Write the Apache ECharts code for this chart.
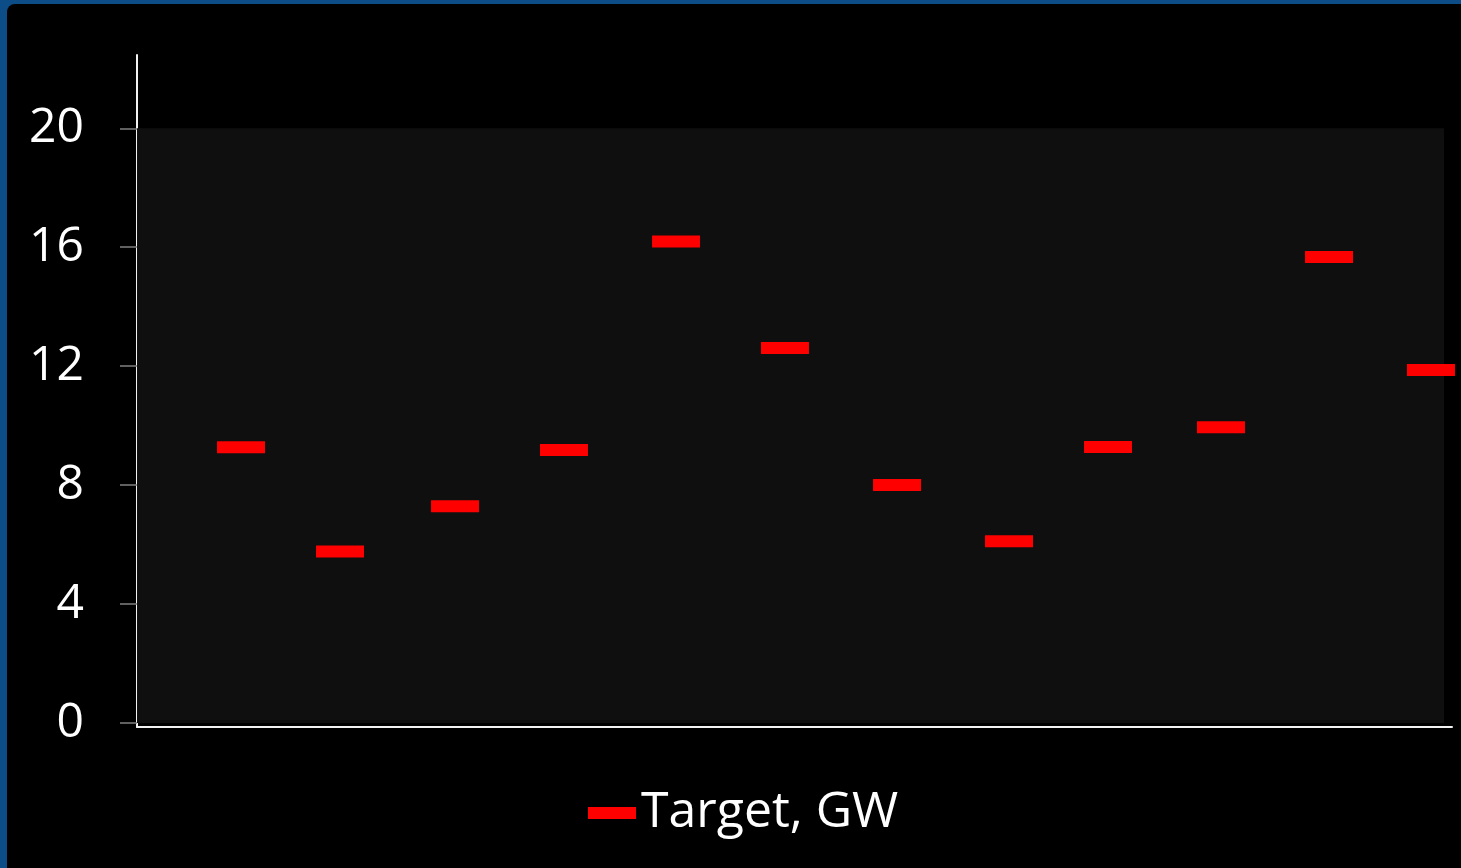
<!DOCTYPE html>
<html>
<head>
<meta charset="utf-8">
<title>Target, GW</title>
<script src="https://cdn.jsdelivr.net/npm/echarts@6/dist/echarts.min.js"></script>
<style>
  html, body { margin: 0; padding: 0; width: 1461px; height: 868px; overflow: hidden; background: #0c4d88; }
  #panel { position: absolute; left: 7px; top: 4px; right: 0; bottom: 0; background: #000; border-top-left-radius: 8px; }
  #chart { position: absolute; left: 0; top: 0; width: 1461px; height: 868px; }
</style>
</head>
<body>
<div id="panel"></div>
<div id="chart"></div>
<script>
// Position of each target along the horizontal axis
const xPositions = [0.955, 1.864, 2.920, 3.920, 4.949, 5.949, 6.978, 8.006, 8.915, 9.952, 10.944, 11.880];
// Target capacity, GW
const targetGW = [9.27, 5.77, 7.29, 9.18, 16.19, 12.61, 8.00, 6.11, 9.28, 9.95, 15.67, 11.87];
// Labelled ticks on the value axis
const yTicks = [0, 4, 8, 12, 16, 20];
const seriesName = 'Target, GW';

const points = xPositions.map((x, i) => [x, targetGW[i]]);

const FONT = '"Open Sans", "Noto Sans", sans-serif';

const chart = echarts.init(document.getElementById('chart'), null, { renderer: 'canvas' });
chart.setOption({
  backgroundColor: 'transparent',
  animation: false,
  grid: { left: 137, right: 9, top: 55, bottom: 141, containLabel: false },
  xAxis: {
    type: 'value',
    min: 0,
    max: 12.073,
    axisLine: { show: true, onZero: false, lineStyle: { color: '#f2f2f2', width: 2 } },
    axisTick: { show: false },
    axisLabel: { show: false },
    splitLine: { show: false }
  },
  yAxis: {
    type: 'value',
    min: -0.1345,
    max: 22.465,
    axisLine: { show: true, lineStyle: { color: '#f2f2f2', width: 2 } },
    axisTick: { show: true, length: 17, customValues: yTicks, lineStyle: { color: '#808080', width: 1.5 } },
    axisLabel: {
      customValues: yTicks,
      color: '#ffffff',
      fontFamily: FONT,
      fontSize: 48,
      margin: 53
    },
    splitLine: { show: false }
  },
  legend: {
    data: [{ name: seriesName, icon: 'rect' }],
    left: 583,
    top: 783,
    itemWidth: 48,
    itemHeight: 12,
    itemGap: 5,
    itemStyle: { opacity: 1 },
    textStyle: { color: '#ffffff', fontFamily: FONT, fontSize: 50 }
  },
  series: [{
    name: seriesName,
    type: 'scatter',
    symbol: 'rect',
    symbolSize: [48, 12],
    itemStyle: { color: '#ff0000', opacity: 1 },
    data: points,
    markArea: {
      silent: true,
      itemStyle: { color: '#0f0f0f' },
      data: [[{ xAxis: 0, yAxis: 0 }, { xAxis: 12, yAxis: 20 }]]
    },
    z: 3
  }]
});
</script>
</body>
</html>
